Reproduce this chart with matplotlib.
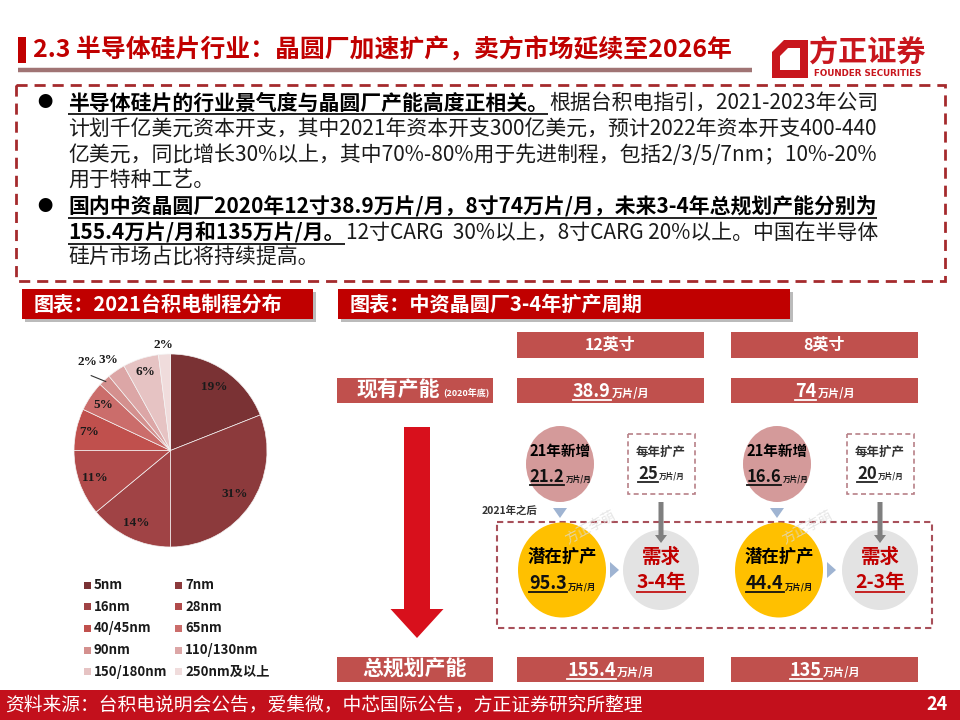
import numpy as np
import matplotlib
matplotlib.use('Agg')
import matplotlib.pyplot as plt
from matplotlib.patches import Rectangle, Ellipse, Polygon, FancyArrow

plt.rcParams['font.family'] = ['Noto Sans CJK SC', 'DejaVu Sans']

# ---- data ----
nodes = ['5nm', '7nm', '16nm', '28nm', '40/45nm', '65nm', '90nm', '110/130nm', '150/180nm', '250nm及以上']
share = [19, 31, 14, 11, 7, 5, 2, 3, 6, 2]
pie_colors = ['#7A3234', '#8C3A3C', '#A04345', '#B14B4B', '#C0504D', '#CB6D6B',
              '#D4908E', '#DCA6A6', '#E6C3C3', '#F0DCDC']

sizes = ['12英寸', '8英寸']
current_cap = ['38.9', '74']        # 2020年底, 万片/月
new_2021 = ['21.2', '16.6']
yearly_add = ['25', '20']
potential = ['95.3', '44.4']
demand_years = ['3-4年', '2-3年']
total_cap = ['155.4', '135']

RED = '#C00000'
BOXRED = '#C0504D'

fig = plt.figure(figsize=(9.6, 7.2), dpi=100)
ax = fig.add_axes([0, 0, 1, 1])
ax.set_xlim(0, 960)
ax.set_ylim(720, 0)
ax.axis('off')
r = fig.canvas.get_renderer()
inv = ax.transData.inverted()


def extent(t):
    bb = t.get_window_extent(renderer=r)
    (x0, y0), (x1, y1) = inv.transform([(bb.x0, bb.y0), (bb.x1, bb.y1)])
    return x0, x1, y0, y1  # y0 is the lower edge (bigger value)


def put(x, y, s, size, bold=False, color='black', underline=False, ha='left', **kw):
    t = ax.text(x, y, s, fontsize=size, fontweight='bold' if bold else 'normal',
                color=color, va='center', ha=ha, **kw)
    x0, x1, y0, y1 = extent(t)
    if underline:
        ax.plot([x0, x1], [y0 + 0.5, y0 + 0.5], color=color, lw=1.2, solid_capstyle='butt')
    return x1


def value(cx, cy, num, unit, nsize, usize, color, ul=True):
    # big number + small unit, centred as a group
    t1 = ax.text(0, cy, num, fontsize=nsize, fontweight='bold', color=color, va='baseline')
    t2 = ax.text(0, cy, unit, fontsize=usize, fontweight='bold', color=color, va='baseline')
    a0, a1, ay0, ay1 = extent(t1)
    b0, b1, _, _ = extent(t2)
    w1, w2 = a1 - a0, b1 - b0
    h = ay0 - ay1
    base = cy + h * 0.38
    left = cx - (w1 + w2) / 2
    t1.set_position((left, base))
    t2.set_position((left + w1 + 1, base))
    if ul:
        ax.plot([left, left + w1], [base + 3, base + 3], color=color, lw=1.3)


# ---- title ----
ax.add_patch(Rectangle((18, 37), 8, 26, color=RED, lw=0))
put(33, 50, '2.3 半导体硅片行业：晶圆厂加速扩产，卖方市场延续至2026年', 17.9, bold=True, color=RED)
ax.plot([18, 752], [70, 70], color='#A07474', lw=3.2, solid_capstyle='butt')

# logo
ax.add_patch(Polygon([(784, 40), (808, 40), (808, 78), (772, 78), (772, 52)], color='#C8161D', lw=0))
ax.add_patch(Polygon([(788, 48), (800, 48), (800, 70), (780, 70), (780, 56)], color='white', lw=0))
ax.text(867, 52, '方正证券', fontsize=21, fontweight='bold', color='#C8161D', ha='center', va='center')
ax.text(868, 74, 'FOUNDER SECURITIES', fontsize=6.3, fontweight='bold', color='#C8161D',
        ha='center', va='center', family='DejaVu Sans')

# ---- dashed text box ----
ax.add_patch(Rectangle((16, 85), 929, 196, fill=False, ec='#A52A2D', lw=2, ls=(0, (4, 2.5))))
ys = [103, 129, 155, 181, 207, 233, 258]
TX = 68
BODY = 15
for y in (ys[0], ys[4]):
    ax.text(45, y, '●', fontsize=11, ha='center', va='center', color='black')
x = put(TX, ys[0], '半导体硅片的行业景气度与晶圆厂产能高度正相关。', BODY, bold=True, underline=True)
put(x + 1, ys[0], '根据台积电指引，2021-2023年公司', BODY, color='#1a1a1a')
put(TX, ys[1], '计划千亿美元资本开支，其中2021年资本开支300亿美元，预计2022年资本开支400-440', BODY, color='#1a1a1a')
put(TX, ys[2], '亿美元，同比增长30%以上，其中70%-80%用于先进制程，包括2/3/5/7nm；10%-20%', BODY, color='#1a1a1a')
put(TX, ys[3], '用于特种工艺。', BODY, color='#1a1a1a')
put(TX, ys[4], '国内中资晶圆厂2020年12寸38.9万片/月，8寸74万片/月，未来3-4年总规划产能分别为', BODY,
    bold=True, underline=True)
x = put(TX, ys[5], '155.4万片/月和135万片/月。', BODY, bold=True, underline=True)
put(x + 1, ys[5], '12寸CARG  30%以上，8寸CARG 20%以上。中国在半导体', BODY, color='#1a1a1a')
put(TX, ys[6], '硅片市场占比将持续提高。', BODY, color='#1a1a1a')

# ---- section headers ----
for (x0, x1, label) in [(22, 313, '图表：2021台积电制程分布'), (338, 790, '图表：中资晶圆厂3-4年扩产周期')]:
    ax.add_patch(Rectangle((x0 + 3, 292), x1 - x0, 30, color='#BBBBBB', lw=0))
    ax.add_patch(Rectangle((x0, 289), x1 - x0, 30, color=RED, lw=0))
    put(x0 + 12, 304, label, 14.5, bold=True, color='white')

# ---- pie ----
pax = fig.add_axes([74 / 960, (720 - 547) / 720, 193 / 960, 193 / 720])
wedges, _ = pax.pie(share, colors=pie_colors, startangle=90, counterclock=False,
                    wedgeprops=dict(edgecolor='#f4f4f4', linewidth=0.5))
pax.set_xlim(-1, 1)
pax.set_ylim(-1, 1)
label_r = [0.80, 0.80, 0.83, 0.83, 0.86, 0.84, 1.26, 1.14, 0.85, 1.10]
for w, v, lr in zip(wedges, share, label_r):
    a = np.deg2rad((w.theta1 + w.theta2) / 2)
    pax.text(lr * np.cos(a), lr * np.sin(a), f'{v}%', ha='center', va='center',
             fontsize=9.5, fontweight='bold', family='Liberation Serif', color='#1a1a1a')
# leader for the small 90nm slice
a = np.deg2rad((wedges[6].theta1 + wedges[6].theta2) / 2)
pax.plot([1.13 * np.cos(a + 0.06), 0.98 * np.cos(a)], [1.13 * np.sin(a + 0.06), 0.98 * np.sin(a)],
         color='#333333', lw=0.8, clip_on=False)

# legend (two columns)
for i, (lab, c) in enumerate(zip(nodes, pie_colors)):
    lx = 84 + (i % 2) * 91
    ly = 585 + (i // 2) * 21.7
    ax.add_patch(Rectangle((lx, ly - 3.5), 7, 7, color=c, lw=0))
    ax.text(lx + 10, ly, lab, fontsize=9.5, fontweight='bold', va='center', color='#1a1a1a')

# ---- expansion diagram ----
col_x = [517, 731]
col_w = 187
for cx0, s in zip(col_x, sizes):
    ax.add_patch(Rectangle((cx0, 332), col_w, 26, color=BOXRED, lw=0))
    ax.text(cx0 + col_w / 2, 345, s, fontsize=11.5, fontweight='bold', color='white', ha='center', va='center')

ax.add_patch(Rectangle((337, 378), 156, 25, color=BOXRED, lw=0))
x = put(357, 390, '现有产能', 15, bold=True, color='white')
put(x + 3, 392, '(2020年底)', 6.5, bold=True, color='white')
ax.add_patch(Rectangle((337, 657), 156, 25, color=BOXRED, lw=0))
ax.text(415, 669, '总规划产能', fontsize=15, fontweight='bold', color='white', ha='center', va='center')

for cx0, cur, tot in zip(col_x, current_cap, total_cap):
    ax.add_patch(Rectangle((cx0, 378), col_w, 25, color=BOXRED, lw=0))
    value(cx0 + col_w / 2, 390, cur, '万片/月', 13, 8, 'white')
    ax.add_patch(Rectangle((cx0, 657), col_w, 25, color=BOXRED, lw=0))
    value(cx0 + col_w / 2, 669, tot, '万片/月', 13, 8, 'white')

# big red arrow
ax.add_patch(FancyArrow(417, 427, 0, 211, width=26, head_width=53, head_length=29,
                        length_includes_head=True, color='#D8101C', lw=0))

# dashed frame round the potential/demand circles
ax.add_patch(Rectangle((497, 522), 435, 106, fill=False, ec='#A8505A', lw=1.5, ls=(0, (3, 2))))
ax.text(482, 511, '2021年之后', fontsize=7.5, fontweight='bold', color='#333333', va='center')

pink_cx = [560, 777]
gray_cx = [661, 880]
for i in range(2):
    pc, gc = pink_cx[i], gray_cx[i]
    # 21年新增
    ax.add_patch(Ellipse((pc, 464), 68, 76, color='#D49A9A', lw=0))
    ax.text(pc, 451, '21年新增', fontsize=10.5, fontweight='bold', ha='center', va='center')
    value(pc, 475, new_2021[i], '万片/月', 12, 5.5, '#111111')
    ax.add_patch(Polygon([(pc - 7, 508), (pc + 7, 508), (pc, 518)], color='#9FB4D2', lw=0))
    # 每年扩产
    ax.add_patch(Rectangle((gc - 33, 434), 67, 60, fill=False, ec='#B88088', lw=1.2, ls=(0, (3, 2))))
    ax.text(gc, 452, '每年扩产', fontsize=9, fontweight='bold', ha='center', va='center', color='#333333')
    value(gc, 472, yearly_add[i], '万片/月', 12, 5.5, '#222222')
    # 潜在扩产
    ax.add_patch(Ellipse((pc + 2, 570), 88, 95, color='#FFC000', lw=0))
    ax.text(pc + 2, 557, '潜在扩产', fontsize=12.5, fontweight='bold', ha='center', va='center')
    value(pc + 2, 582, potential[i], '万片/月', 13, 6, '#111111')
    ax.add_patch(Polygon([(pc + 50, 562), (pc + 50, 578), (pc + 59, 570)], color='#9FB4D2', lw=0))
    # 需求
    ax.add_patch(Ellipse((gc, 570), 76, 80, color='#E3E3E3', lw=0))
    ax.text(gc, 557, '需求', fontsize=14, fontweight='bold', ha='center', va='center', color=RED)
    put(gc, 582, demand_years[i], 14, bold=True, color=RED, underline=True, ha='center')
    ax.add_patch(FancyArrow(gc, 502, 0, 41, width=5, head_width=12, head_length=8,
                            length_includes_head=True, color='#7F7F7F', lw=0, zorder=5))
    # watermark
    ax.text(pc + 30, 527, '方正李萌', fontsize=10, color='#dcdcdc', rotation=28,
            ha='center', va='center', alpha=0.7)

# ---- footer ----
ax.add_patch(Rectangle((0, 690), 960, 30, color='#C3101C', lw=0))
ax.text(5, 705, '资料来源：台积电说明会公告，爱集微，中芯国际公告，方正证券研究所整理', fontsize=13.5,
        color='white', va='center')
ax.text(948, 705, '24', fontsize=13, fontweight='bold', color='white', va='center', ha='right')

fig.savefig('out.png', dpi=100)
